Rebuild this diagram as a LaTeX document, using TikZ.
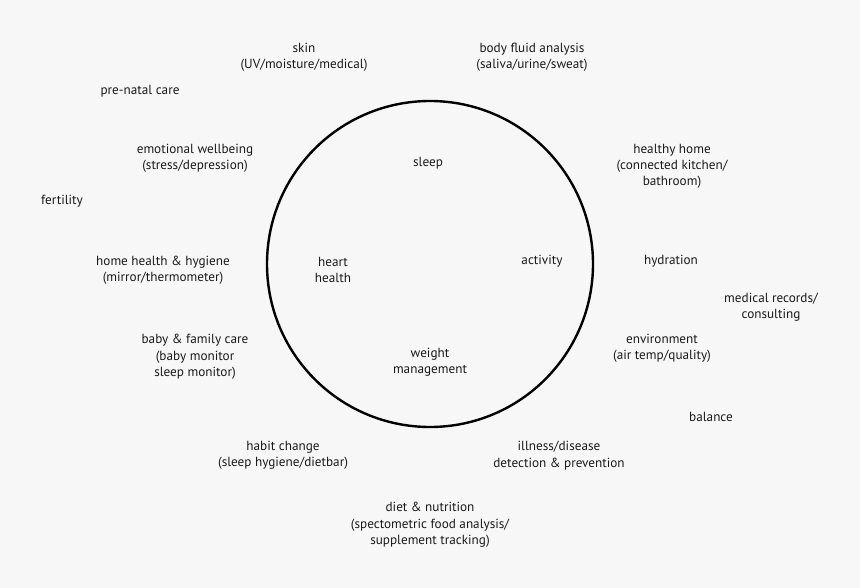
\documentclass[tikz,border=0pt]{standalone}
\usepackage{fontspec}
\setmainfont{PT Sans}
\usetikzlibrary{positioning}
\definecolor{bgcol}{HTML}{F7F7F7}
\definecolor{txtcol}{HTML}{1A1A1A}

\begin{document}
\begin{tikzpicture}[x=1pt, y=-1pt, every node/.style={align=center, inner sep=0pt, text=txtcol, font=\fontsize{13.2}{16.3}\selectfont}]
\fill[bgcol] (0,0) rectangle (860,588);

\node[draw, circle, line width=2.4pt, minimum size=326pt] (core) at (430,264) {};

% inside the circle
\node (sleep) at (428,163.5) {sleep};
\node (heart) at (333,270) {heart\\health};
\node (activity) at (542,261.5) {activity};
\node (weight) at (430,362) {weight\\management};

% round the circle
\node (skin) at (304,57.5) {skin\\(UV/moisture/medical)};
\node (fluid) at (532,57.5) {body fluid analysis\\(saliva/urine/sweat)};
\node (prenatal) at (140,91.5) {pre-natal care};
\node (emotion) at (195,158) {emotional wellbeing\\(stress/depression)};
\node (home) at (672,166.5) {healthy home\\(connected kitchen/\\bathroom)};
\node (fertility) at (62,201.5) {fertility};
\node (hygiene) at (163,270) {home health \& hygiene\\(mirror/thermometer)};
\node (hydration) at (671,261.5) {hydration};
\node (records) at (771,307.5) {medical records/\\consulting};
\node (baby) at (195,357) {baby \& family care\\(baby monitor\\sleep monitor)};
\node (environment) at (662,348.5) {environment\\(air temp/quality)};
\node (balance) at (711,416.5) {balance};
\node (habit) at (283,455.5) {habit change\\(sleep hygiene/dietbar)};
\node (illness) at (559,455.5) {illness/disease\\detection \& prevention};
\node (diet) at (430,525) {diet \& nutrition\\(spectometric food analysis/\\supplement tracking)};
\end{tikzpicture}
\end{document}
